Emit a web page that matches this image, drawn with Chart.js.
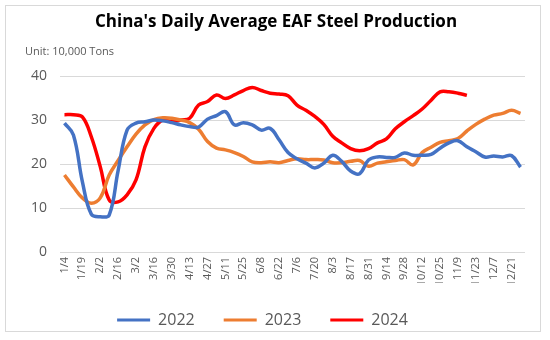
<!DOCTYPE html>
<html>
<head>
<meta charset="utf-8">
<script src="https://cdn.jsdelivr.net/npm/chart.js@4.4.1/dist/chart.umd.min.js"></script>
<style>
    body { margin: 0; background: #fff; }
    #wrap { position: relative; width: 550px; height: 340px; }
    #wrap canvas { position: absolute; left: 0; top: 0; }
    .frame { position: absolute; left: 5px; top: 5px; width: 536px; height: 327px; box-sizing: border-box; border: 1px solid #d9d9d9; pointer-events: none; }
</style>
</head>
<body>
<div id="wrap">
    <canvas id="eafChart" width="550" height="340"></canvas>
    <div class="frame"></div>
</div>
<script>
// Fechas semanales (se muestra una de cada dos en el eje)
const dates = ['1/4','1/11','1/19','1/26','2/2','2/9','2/16','2/23','3/2','3/9','3/16','3/23','3/30','4/6',
    '4/13','4/20','4/27','5/4','5/11','5/18','5/25','6/1','6/8','6/15','6/22','6/29','7/6','7/13','7/20','7/27',
    '8/3','8/10','8/17','8/24','8/31','9/7','9/14','9/21','9/28','10/5','10/12','10/19','10/25','11/2','11/9',
    '11/16','11/23','11/30','12/7','12/14','12/21','12/28'];

const prod2022 = [29.3, 26.6, 16.0, 8.6, 8.0, 8.4, 18.5, 27.7, 29.3, 29.6, 30.0, 29.8, 29.4, 28.9, 28.5, 28.4,
    30.2, 31.0, 31.9, 28.9, 29.4, 28.9, 27.7, 28.1, 25.5, 22.6, 21.2, 20.2, 19.1, 20.2, 22.0, 20.6, 18.4, 17.8,
    20.9, 21.6, 21.5, 21.5, 22.5, 22.0, 22.0, 22.2, 23.6, 24.8, 25.3, 23.9, 22.8, 21.6, 21.8, 21.6, 21.9, 19.3];

const prod2023 = [17.5, 14.8, 12.3, 11.1, 12.3, 17.5, 20.8, 23.9, 26.8, 28.9, 30.1, 30.5, 30.4, 30.0, 29.4, 27.9,
    25.1, 23.6, 23.2, 22.6, 21.7, 20.5, 20.3, 20.5, 20.3, 20.8, 21.2, 21.0, 21.0, 20.9, 20.3, 20.3, 20.6, 20.8,
    19.5, 20.2, 20.5, 20.8, 21.0, 19.8, 22.6, 23.8, 24.9, 25.3, 25.8, 27.5, 29.0, 30.2, 31.1, 31.5, 32.2, 31.5];

const prod2024 = [31.2, 31.2, 30.7, 26.2, 19.4, 11.8, 11.4, 13.0, 16.4, 23.9, 28.1, 30.0, 29.6, 30.0, 30.4, 33.4,
    34.2, 35.7, 34.9, 35.7, 36.7, 37.4, 36.7, 36.1, 35.9, 35.5, 33.4, 32.2, 30.8, 29.0, 26.3, 24.8, 23.5, 23.0,
    23.5, 24.8, 25.7, 28.0, 29.6, 31.0, 32.5, 34.5, 36.4, 36.4, 36.1, 35.6, null, null, null, null, null, null];

const yTicks = [0, 10, 20, 30, 40];

const chartTitle = "China's Daily Average EAF Steel Production";
const unitText = 'Unit: 10,000 Tons';

Chart.defaults.font.family = '"Open Sans", "Noto Sans", sans-serif';
Chart.defaults.color = '#595959';

// Título y unidad dibujados sobre el canvas
const titlePlugin = {
    id: 'titleText',
    afterDraw(chart) {
        const ctx = chart.ctx;
        ctx.save();
        ctx.textBaseline = 'middle';
        ctx.fillStyle = '#000';
        ctx.font = 'bold 17px "Open Sans", sans-serif';
        ctx.textAlign = 'center';
        ctx.fillText(chartTitle, 276, 22);
        ctx.fillStyle = '#595959';
        ctx.font = '11px "Open Sans", sans-serif';
        ctx.textAlign = 'left';
        ctx.fillText(unitText, 25, 52);
        ctx.restore();
    }
};

function lineSet(label, data, color) {
    return {
        label: label,
        data: data,
        borderColor: color,
        backgroundColor: color,
        borderWidth: 3.5,
        pointRadius: 0,
        tension: 0.4,
        spanGaps: false
    };
}

new Chart(document.getElementById('eafChart'), {
    type: 'line',
    data: {
        labels: dates,
        datasets: [
            lineSet('2022', prod2022, '#4472C4'),
            lineSet('2023', prod2023, '#ED7D31'),
            lineSet('2024', prod2024, '#FF0000')
        ]
    },
    options: {
        responsive: false,
        animation: false,
        devicePixelRatio: 1,
        layout: { padding: { top: 76, left: 0, right: 25, bottom: 2 } },
        scales: {
            x: {
                offset: true,
                grid: { display: false, drawTicks: false },
                border: { display: false },
                afterFit(scale) { scale.height = 31; },
                ticks: {
                    autoSkip: false,
                    maxRotation: 90,
                    minRotation: 90,
                    padding: 5,
                    font: { size: 11 },
                    callback: function(value, index) {
                        return index % 2 === 0 ? dates[index] : '';
                    }
                }
            },
            y: {
                min: 0,
                max: 40,
                afterFit(scale) { scale.width = 60; },
                afterBuildTicks(scale) { scale.ticks = yTicks.map(v => ({ value: v })); },
                grid: { color: '#d9d9d9', lineWidth: 1, drawTicks: false },
                border: { display: false },
                ticks: { padding: 13, font: { size: 14 } }
            }
        },
        plugins: {
            title: { display: false },
            tooltip: { enabled: false },
            legend: {
                position: 'bottom',
                labels: {
                    boxWidth: 33,
                    boxHeight: 3,
                    padding: 29,
                    font: { size: 16 },
                    generateLabels(chart) {
                        const items = Chart.defaults.plugins.legend.labels.generateLabels(chart);
                        items.forEach(item => { item.lineWidth = 0; });
                        return items;
                    }
                }
            }
        }
    },
    plugins: [titlePlugin]
});
</script>
</body>
</html>
